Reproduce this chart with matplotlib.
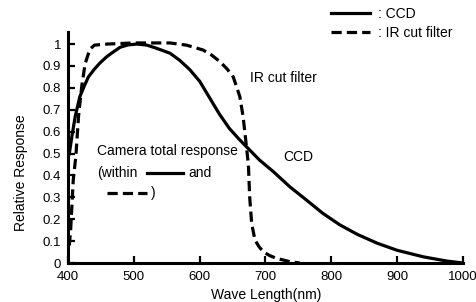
import matplotlib
matplotlib.use('Agg')
import matplotlib.pyplot as plt
from matplotlib.lines import Line2D

plt.rcParams['font.family'] = ['Liberation Sans', 'DejaVu Sans']

# CCD spectral response
ccd_nm = [400, 402, 406, 411, 418, 425, 431, 440, 448, 458, 466, 479, 491, 505, 520,
          535, 555, 570, 585, 600, 615, 630, 645, 660, 676, 691, 712, 737, 762, 787,
          813, 840, 870, 900, 940, 975, 1000]
ccd_val = [0.48, 0.50, 0.58, 0.67, 0.76, 0.81, 0.85, 0.885, 0.912, 0.94, 0.958, 0.985,
           0.996, 1.0, 0.995, 0.98, 0.958, 0.925, 0.883, 0.83, 0.755, 0.68, 0.615,
           0.565, 0.516, 0.47, 0.417, 0.348, 0.288, 0.227, 0.174, 0.13, 0.09, 0.058,
           0.028, 0.009, 0.0]

# IR cut filter transmission
ir_nm = [402, 404, 408, 412, 416, 421, 426, 433, 440, 460, 500, 555, 580, 605, 618,
         631, 642, 651, 661, 666, 670, 674, 676, 679, 684, 690, 697, 707, 717, 737, 752]
ir_val = [0.08, 0.15, 0.38, 0.49, 0.67, 0.81, 0.91, 0.975, 0.995, 1.0, 1.005, 1.005,
          0.995, 0.973, 0.95, 0.919, 0.885, 0.85, 0.76, 0.668, 0.56, 0.45, 0.30, 0.18,
          0.105, 0.075, 0.05, 0.033, 0.021, 0.006, 0.0]

xticks = [400, 500, 600, 700, 800, 900, 1000]
yticks = [0, 0.1, 0.2, 0.3, 0.4, 0.5, 0.6, 0.7, 0.8, 0.9, 1]
ytick_labels = ['0', '0.1', '0.2', '0.3', '0.4', '0.5', '0.6', '0.7', '0.8', '0.9', '1']

W, H = 477, 302
lw = 2.3
dash = (3.2, 1.6)
fs = 10


def px(x, y):
    return x / W, 1 - y / H


fig = plt.figure(figsize=(W / 100, H / 100), dpi=100)
ax = fig.add_axes([68 / W, 1 - 263 / H, (463 - 68) / W, (263 - 32) / H])

ax.plot(ccd_nm, ccd_val, color='black', lw=lw, solid_capstyle='butt')
ax.plot(ir_nm, ir_val, color='black', lw=lw, dashes=dash, dash_capstyle='butt')

ax.set_xlim(400, 1000)
ax.set_ylim(0, 1.055)
ax.set_xticks(xticks)
ax.set_yticks(yticks)
ax.set_yticklabels(ytick_labels)
for s in ['top', 'right']:
    ax.spines[s].set_visible(False)
for s in ['left', 'bottom']:
    ax.spines[s].set_linewidth(2.2)
ax.tick_params(direction='in', length=5, width=1.6, labelsize=9.5)
ax.tick_params(axis='y', pad=5)
ax.tick_params(axis='x', pad=5.5)

fig.text(*px(21, 173), 'Relative Response', rotation=90, ha='center', va='center', fontsize=fs)
fig.text(*px(266, 295), 'Wave Length(nm)', ha='center', va='center', fontsize=fs)

# legend
handles = [Line2D([], [], color='black', lw=lw),
           Line2D([], [], color='black', lw=lw, dashes=dash)]
fig.legend(handles, [': CCD', ': IR cut filter'], loc='upper left',
           bbox_to_anchor=px(331, 7), frameon=False, fontsize=fs,
           handlelength=2.8, handletextpad=0.55, labelspacing=0.35,
           borderpad=0, borderaxespad=0)

# annotations
fig.text(*px(250, 78), 'IR cut filter', ha='left', va='center', fontsize=fs)
fig.text(*px(283, 157), 'CCD', ha='left', va='center', fontsize=fs)
fig.text(*px(97, 151), 'Camera total response', ha='left', va='center', fontsize=fs)
fig.text(*px(97, 173), '(within', ha='left', va='center', fontsize=fs)
fig.text(*px(188, 173), 'and', ha='left', va='center', fontsize=fs)
fig.text(*px(151, 193), ')', ha='left', va='center', fontsize=fs)
x0, y0 = px(147, 173)
x1, _ = px(183, 173)
fig.add_artist(Line2D([x0, x1], [y0, y0], color='black', lw=lw, transform=fig.transFigure))
x0, y0 = px(107, 193)
x1, _ = px(147, 193)
fig.add_artist(Line2D([x0, x1], [y0, y0], color='black', lw=lw, dashes=dash,
                      transform=fig.transFigure))

fig.savefig('out.png', dpi=100)
